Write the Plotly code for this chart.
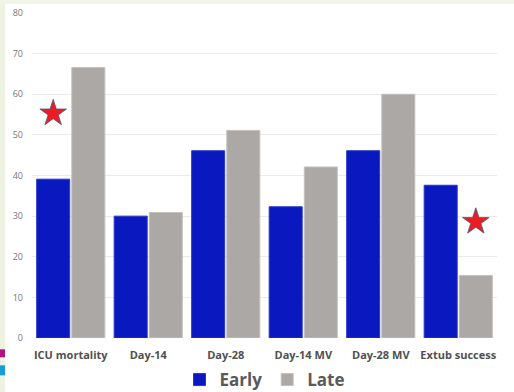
import plotly.graph_objects as go

# Outcomes compared between early and late groups (%)
categories = ["ICU mortality", "Day-14", "Day-28", "Day-14 MV", "Day-28 MV", "Extub success"]
early = [39.1, 30.0, 46.1, 32.3, 46.1, 37.6]
late = [66.6, 30.9, 51.1, 42.1, 60.0, 15.4]

# Significance markers: (category, group, height)
sig_categories = ["ICU mortality", "Extub success"]
sig_groups = ["Early", "Late"]
sig_values = [55.3, 28.6]

y_ticks = [0, 10, 20, 30, 40, 50, 60, 70, 80]

BARGAP = 0.093
BARGROUPGAP = 0.06
BLUE = "#0a18bf"
GRAY = "#aca8a6"

idx = list(range(len(categories)))

fig = go.Figure()
fig.add_trace(go.Bar(
    x=idx, y=early, name="Early",
    marker=dict(color=BLUE, line=dict(color="#2a36c8", width=1)),
))
fig.add_trace(go.Bar(
    x=idx, y=late, name="Late",
    marker=dict(color=GRAY, line=dict(color="#c4c1bf", width=1)),
))

# place each star over the centre of its group's bar
slot = (1 - BARGAP) / 2
group_offset = {"Early": -slot / 2, "Late": slot / 2}
star_x = [categories.index(c) + group_offset[g] for c, g in zip(sig_categories, sig_groups)]
fig.add_trace(go.Scatter(
    x=star_x, y=sig_values, mode="markers", showlegend=False, hoverinfo="skip",
    marker=dict(symbol="star", size=20, color="#ec1c24",
                line=dict(color="#4a5a7a", width=0.8)),
))

# light page background strips around the white chart panel
px_left, px_w = 32, 465
py_bottom, py_h = 337.7, 324.7
def fx(px):
    return (px - px_left) / px_w
def fy(py):
    return (py_bottom - py) / py_h

shapes = [
    dict(type="rect", xref="paper", yref="paper", x0=fx(0), x1=fx(5), y0=fy(392), y1=fy(0),
         fillcolor="#eef3e1", line=dict(width=0), layer="below"),
    dict(type="rect", xref="paper", yref="paper", x0=fx(0), x1=fx(514), y0=fy(4), y1=fy(0),
         fillcolor="#f1f4e8", line=dict(width=0), layer="below"),
    dict(type="rect", xref="paper", yref="paper", x0=fx(0), x1=fx(5), y0=fy(357), y1=fy(349),
         fillcolor="#b0127f", line=dict(width=0), layer="below"),
    dict(type="rect", xref="paper", yref="paper", x0=fx(0), x1=fx(5), y0=fy(375), y1=fy(365),
         fillcolor="#1a9ad6", line=dict(width=0), layer="below"),
]

fig.update_layout(
    width=514, height=392,
    margin=dict(l=32, r=17, t=13, b=54.3, autoexpand=False),
    paper_bgcolor="white", plot_bgcolor="white",
    barmode="group", bargap=BARGAP, bargroupgap=BARGROUPGAP,
    font=dict(family="Open Sans, Arial, sans-serif"),
    shapes=shapes,
    showlegend=True,
    legend=dict(orientation="h", x=0.5, xanchor="center",
                yref="container", y=(392 - 380) / 392, yanchor="middle",
                font=dict(size=17, color="#5a5a5a", weight=700),
                itemwidth=30, bgcolor="rgba(0,0,0,0)"),
    xaxis=dict(
        range=[-0.5, len(categories) - 0.5],
        tickvals=idx, ticktext=categories,
        tickfont=dict(size=11, color="#505050", weight=700),
        showgrid=False, zeroline=False, showline=False, ticks="",
        ticklabelstandoff=9, automargin=False,
    ),
    yaxis=dict(
        range=[0, 80], tickvals=y_ticks,
        tickfont=dict(size=9, color="#777777"),
        showgrid=True, gridcolor="#ebebeb", gridwidth=1,
        zeroline=False, showline=False, ticks="",
        ticklabelstandoff=8, automargin=False,
    ),
)

fig.write_html("out.html")
